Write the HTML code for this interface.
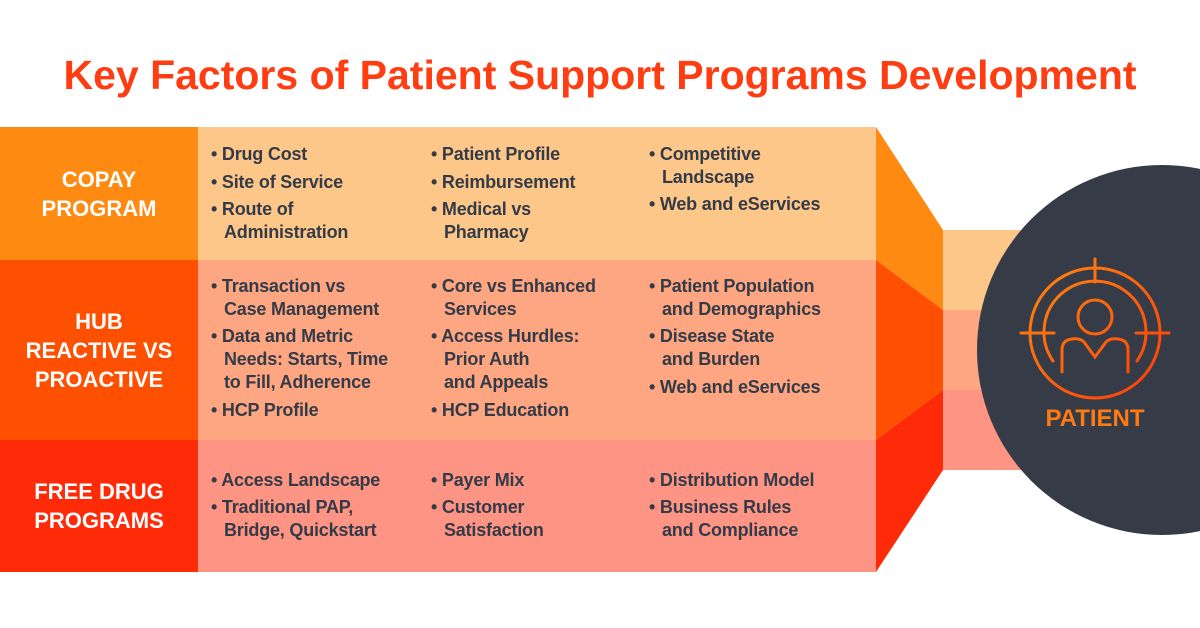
<!DOCTYPE html>
<html><head><meta charset="utf-8"><style>
body{margin:0;width:1200px;height:628px;background:#fff;position:relative;overflow:hidden;font-family:"Liberation Sans",sans-serif}
.a{position:absolute}
.t{position:absolute;font-size:18px;font-weight:bold;color:#343b47;line-height:22px;white-space:nowrap;letter-spacing:-0.2px}
.l{position:absolute;left:0;width:198px;color:#fff;font-weight:bold;font-size:22px;text-align:center;line-height:29px;display:flex;align-items:center;justify-content:center}
</style></head><body>
<div class="a" style="left:0;top:50px;width:1200px;text-align:center;color:#ff3d12;font-size:41px;font-weight:bold;line-height:50px">Key Factors of Patient Support Programs Development</div>
<svg class="a" style="left:0;top:0" width="1200" height="628">
<rect x="943" y="230" width="120" height="80" fill="#fec78a"/>
<rect x="943" y="310" width="120" height="80" fill="#fea682"/>
<rect x="943" y="390" width="120" height="80" fill="#fe9484"/>
<rect x="198" y="127" width="678" height="133" fill="#fec78a"/>
<rect x="198" y="260" width="678" height="180" fill="#fea682"/>
<rect x="198" y="440" width="678" height="132" fill="#fe9484"/>
<rect x="0" y="127" width="198" height="133" fill="#fe8a12"/>
<rect x="0" y="260" width="198" height="180" fill="#fe5000"/>
<rect x="0" y="440" width="198" height="132" fill="#fe2a08"/>
<polygon points="876,127 943,230 943,310 876,260" fill="#fe8a12"/>
<polygon points="876,260 943,310 943,390 876,440" fill="#fe5000"/>
<polygon points="876,440 943,390 943,470 876,572" fill="#fe2a08"/>
<circle cx="1162" cy="350" r="185" fill="#353c47"/>
<defs><linearGradient id="g" gradientUnits="userSpaceOnUse" x1="1025" y1="260" x2="1165" y2="400"><stop offset="0" stop-color="#ff8a10"/><stop offset="1" stop-color="#ff3a05"/></linearGradient></defs>
<g fill="none" stroke="url(#g)" stroke-width="3" stroke-linecap="round">
<circle cx="1095" cy="333" r="65"/>
<path d="M1053,361 A51,51 0 1 1 1137,361"/>
<line x1="1095" y1="259" x2="1095" y2="282"/>
<line x1="1021" y1="333" x2="1054" y2="333"/>
<line x1="1136" y1="333" x2="1169" y2="333"/>
<circle cx="1095" cy="317" r="17"/>
<path d="M1062,372 V350 Q1062,340 1072,339 Q1080,338 1084,342 L1095,357 L1106,342 Q1110,338 1118,339 Q1128,340 1128,350 V372"/>
</g>
</svg>
<div class="a" style="left:1035px;top:405px;width:120px;text-align:center;color:#ff7a12;font-weight:bold;font-size:24px">PATIENT</div>
<div class="l" style="top:127px;height:133px">COPAY<br>PROGRAM</div>
<div class="l" style="top:260px;height:180px">HUB<br>REACTIVE VS<br>PROACTIVE</div>
<div class="l" style="top:440px;height:132px">FREE DRUG<br>PROGRAMS</div>
<!-- col1 -->
<div class="t" style="left:211px;top:143px">• Drug Cost</div>
<div class="t" style="left:211px;top:171px">• Site of Service</div>
<div class="t" style="left:211px;top:198px">• Route of</div>
<div class="t" style="left:224px;top:221px">Administration</div>
<div class="t" style="left:211px;top:275px">• Transaction vs</div>
<div class="t" style="left:224px;top:298px">Case Management</div>
<div class="t" style="left:211px;top:325px">• Data and Metric</div>
<div class="t" style="left:224px;top:348px">Needs: Starts, Time</div>
<div class="t" style="left:224px;top:371px">to Fill, Adherence</div>
<div class="t" style="left:211px;top:399px">• HCP Profile</div>
<div class="t" style="left:211px;top:469px">• Access Landscape</div>
<div class="t" style="left:211px;top:496px">• Traditional PAP,</div>
<div class="t" style="left:224px;top:519px">Bridge, Quickstart</div>
<!-- col2 -->
<div class="t" style="left:431px;top:143px">• Patient Profile</div>
<div class="t" style="left:431px;top:171px">• Reimbursement</div>
<div class="t" style="left:431px;top:198px">• Medical vs</div>
<div class="t" style="left:444px;top:221px">Pharmacy</div>
<div class="t" style="left:431px;top:275px">• Core vs Enhanced</div>
<div class="t" style="left:444px;top:298px">Services</div>
<div class="t" style="left:431px;top:325px">• Access Hurdles:</div>
<div class="t" style="left:444px;top:348px">Prior Auth</div>
<div class="t" style="left:444px;top:371px">and Appeals</div>
<div class="t" style="left:431px;top:399px">• HCP Education</div>
<div class="t" style="left:431px;top:469px">• Payer Mix</div>
<div class="t" style="left:431px;top:496px">• Customer</div>
<div class="t" style="left:444px;top:519px">Satisfaction</div>
<!-- col3 -->
<div class="t" style="left:649px;top:143px">• Competitive</div>
<div class="t" style="left:662px;top:166px">Landscape</div>
<div class="t" style="left:649px;top:193px">• Web and eServices</div>
<div class="t" style="left:649px;top:275px">• Patient Population</div>
<div class="t" style="left:662px;top:298px">and Demographics</div>
<div class="t" style="left:649px;top:325px">• Disease State</div>
<div class="t" style="left:662px;top:348px">and Burden</div>
<div class="t" style="left:649px;top:376px">• Web and eServices</div>
<div class="t" style="left:649px;top:469px">• Distribution Model</div>
<div class="t" style="left:649px;top:496px">• Business Rules</div>
<div class="t" style="left:662px;top:519px">and Compliance</div>
</body></html>
